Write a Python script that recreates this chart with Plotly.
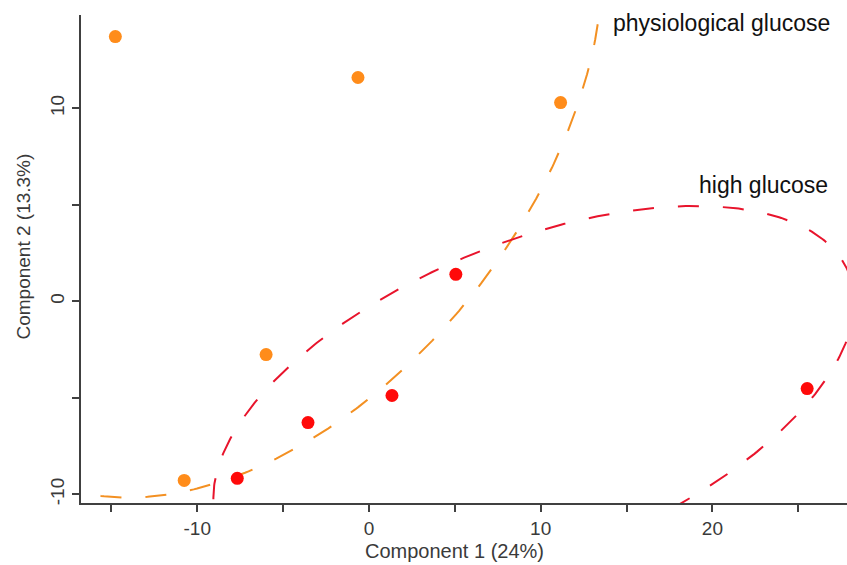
import numpy as np
import plotly.graph_objects as go

# Scores (Component 1, Component 2)
phys_x = [-14.77, -0.64, 11.16, -5.99, -10.76]
phys_y = [13.72, 11.6, 10.3, -2.76, -9.28]
high_x = [5.06, 1.34, -3.55, -7.67, 25.52]
high_y = [1.4, -4.88, -6.28, -9.17, -4.52]

# Group ellipses: center x, center y, semi-major, semi-minor, angle (deg)
phys_ellipse = [-5.65, 9.1, 23.07, 14.5, 45.0]
high_ellipse = [9.6, -5.1, 19.5, 8.3, 18.7]

x_ticks = [-10, 0, 10, 20]
y_ticks = [-10, 0, 10]

ORANGE = "#FF8C1A"
ORANGE_LINE = "#F39022"
RED = "#FF0A0A"
RED_LINE = "#E8142C"


def ellipse(params, n=600):
    cx, cy, a, b, ang = params
    t = np.linspace(0, 2 * np.pi, n)
    th = np.deg2rad(ang)
    x = cx + a * np.cos(th) * np.cos(t) - b * np.sin(th) * np.sin(t)
    y = cy + a * np.sin(th) * np.cos(t) + b * np.cos(th) * np.sin(t)
    return x, y


fig = go.Figure()
ex, ey = ellipse(phys_ellipse)
fig.add_trace(go.Scatter(x=ex, y=ey, mode="lines",
                         line=dict(color=ORANGE_LINE, width=2, dash="21px,24px"),
                         hoverinfo="skip", showlegend=False))
ex, ey = ellipse(high_ellipse)
fig.add_trace(go.Scatter(x=ex, y=ey, mode="lines",
                         line=dict(color=RED_LINE, width=2, dash="21px,24px"),
                         hoverinfo="skip", showlegend=False))
fig.add_trace(go.Scatter(x=phys_x, y=phys_y, mode="markers",
                         marker=dict(color=ORANGE, size=13, line=dict(width=0)),
                         name="physiological glucose", showlegend=False))
fig.add_trace(go.Scatter(x=high_x, y=high_y, mode="markers",
                         marker=dict(color=RED, size=13, line=dict(width=0)),
                         name="high glucose", showlegend=False))

FAM = "Liberation Sans, Arial, sans-serif"
AXIS_FONT = dict(family=FAM, size=19, color="#3a3a3a")
TITLE_FONT_X = dict(family=FAM, size=20, color="#3a3a3a")

fig.update_layout(
    width=847, height=565,
    margin=dict(l=81, r=0, t=15, b=62),
    paper_bgcolor="white", plot_bgcolor="white",
    font=AXIS_FONT,
    xaxis=dict(range=[-16.77, 27.84], showgrid=False, zeroline=False,
               showline=True, linecolor="#404040", linewidth=2,
               ticks="outside", ticklen=7, tickwidth=2, tickcolor="#404040",
               tickvals=x_ticks, ticktext=[str(v) for v in x_ticks],
               minor=dict(dtick=5, tick0=0, ticks="outside", ticklen=7,
                          tickwidth=2, tickcolor="#404040", showgrid=False),
               tickfont=AXIS_FONT),
    yaxis=dict(range=[-10.45, 14.84], showgrid=False, zeroline=False,
               showline=True, linecolor="#404040", linewidth=2,
               ticks="outside", ticklen=7, tickwidth=2, tickcolor="#404040",
               tickvals=y_ticks, ticktext=[str(v) for v in y_ticks],
               tickangle=-90,
               minor=dict(dtick=5, tick0=0, ticks="outside", ticklen=7,
                          tickwidth=2, tickcolor="#404040", showgrid=False),
               tickfont=AXIS_FONT),
    annotations=[
        dict(x=0.488, y=-0.098, xref="paper", yref="paper", text="Component 1 (24%)",
             showarrow=False, xanchor="center", yanchor="middle", font=TITLE_FONT_X),
        dict(x=-0.075, y=0.5246, xref="paper", yref="paper", text="Component 2 (13.3%)",
             showarrow=False, xanchor="center", yanchor="middle", textangle=-90,
             font=AXIS_FONT),
        dict(x=14.09, y=14.45, xref="x", yref="y", text="physiological glucose",
             showarrow=False, xanchor="left", yanchor="middle",
             font=dict(family=FAM, size=23, color="#111111")),
        dict(x=19.1, y=6.05, xref="x", yref="y", text="high glucose",
             showarrow=False, xanchor="left", yanchor="middle",
             font=dict(family=FAM, size=23, color="#111111")),
    ],
)

fig.write_html("out.html")
